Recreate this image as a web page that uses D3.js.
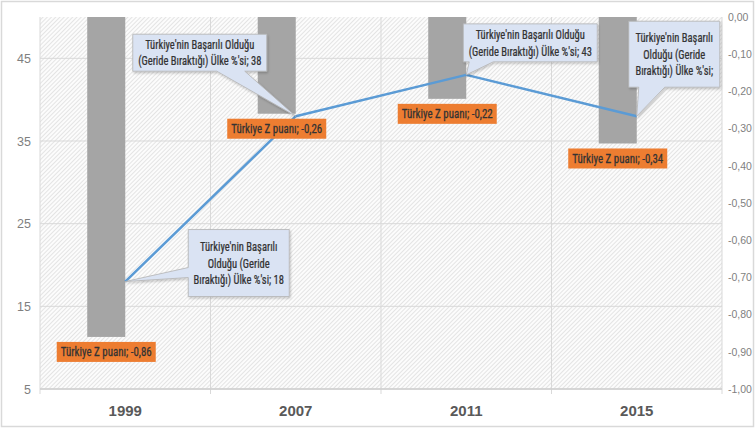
<!DOCTYPE html>
<html><head><meta charset="utf-8">
<script src="https://cdn.jsdelivr.net/npm/d3@7"></script>
<style>
html,body{margin:0;padding:0;background:#fff;}
svg{display:block;font-family:"Liberation Sans Narrow","Arial Narrow","Roboto Condensed",sans-serif;}
</style></head><body>
<svg id="chart" width="755" height="428"></svg>
<script>
const years = ["1999", "2007", "2011", "2015"];
const zScores = [-0.86, -0.26, -0.22, -0.34];
const pctValues = [18, 38, 43, 38];
const leftTicks = [5, 15, 25, 35, 45];
const rightTicks = [0, -0.1, -0.2, -0.3, -0.4, -0.5, -0.6, -0.7, -0.8, -0.9, -1.0];
const zLabelPrefix = "Türkiye Z puanı; ";
const pctLabelPrefix = "Türkiye'nin Başarılı Olduğu (Geride Bıraktığı) Ülke %'si; ";
// how the callout text wraps (words per line) and whether the value is shown
const calloutWraps = [[2, 2, 4], [3, 5], [3, 5], [2, 2, 3]];
const calloutShowValue = [true, true, true, false];

const svg = d3.select("#chart");
const W = 755, H = 428;
const L = 40, R = 722, T = 17, B = 389;
const SXC = 0.81; // horizontal condensing of callout text
const SXZ = 0.84; // horizontal condensing of Z label text

const fmt = v => d3.format(".2f")(v).replace(".", ",").replace("−", "-");

// outer border
svg.append("rect").attr("x", 1.5).attr("y", 1.5).attr("width", W - 3).attr("height", H - 3)
  .attr("fill", "#fff").attr("stroke", "#d9d9d9").attr("stroke-width", 1.5);

// hatch pattern
const defs = svg.append("defs");
const pat = defs.append("pattern").attr("id", "hatch").attr("patternUnits", "userSpaceOnUse")
  .attr("width", 3).attr("height", 3).attr("patternTransform", "rotate(-45)");
pat.append("rect").attr("width", 3).attr("height", 3).attr("fill", "#fcfcfc");
pat.append("line").attr("x1", 0).attr("y1", 0.5).attr("x2", 3).attr("y2", 0.5)
  .attr("stroke", "#e4e4e4").attr("stroke-width", 1);
const shadow = defs.append("filter").attr("id", "sh").attr("x", "-10%").attr("y", "-10%").attr("width", "130%").attr("height", "140%");
shadow.append("feDropShadow").attr("dx", 1).attr("dy", 1.5).attr("stdDeviation", 1.2).attr("flood-color", "#000").attr("flood-opacity", 0.22);

const x = d3.scaleBand().domain(years).range([L, R]).padding(0);
const yL = d3.scaleLinear().domain([5, 50]).range([B, T]);
const yR = d3.scaleLinear().domain([-1, 0]).range([B, T]);
const bw = x.bandwidth();
const cx = d => x(d) + bw / 2;

svg.append("rect").attr("x", L).attr("y", T).attr("width", R - L).attr("height", B - T).attr("fill", "url(#hatch)");

// horizontal gridlines
svg.append("g").selectAll("line").data(leftTicks).join("line")
  .attr("x1", L).attr("x2", R).attr("y1", d => yL(d)).attr("y2", d => yL(d))
  .attr("stroke", "#d9d9d9").attr("stroke-width", 1);
// vertical gridlines between categories (+ edges), extend as ticks below axis
const bounds = years.map(d => x(d)).concat([R]);
svg.append("g").selectAll("line").data(bounds).join("line")
  .attr("x1", d => d).attr("x2", d => d).attr("y1", T).attr("y2", B + 5)
  .attr("stroke", "#d9d9d9").attr("stroke-width", 1);
svg.append("line").attr("x1", L).attr("x2", R).attr("y1", B).attr("y2", B).attr("stroke", "#cfcfcf").attr("stroke-width", 1.5);

// axes
const gL = svg.append("g").attr("transform", `translate(${L},0)`)
  .call(d3.axisLeft(yL).tickValues(leftTicks).tickSize(0).tickPadding(9));
gL.select(".domain").remove();
gL.selectAll("text").attr("fill", "#7f7f7f").style("font-size", "12.5px").style("font-family", "inherit");

const gR = svg.append("g").attr("transform", `translate(${R},0)`)
  .call(d3.axisRight(yR).tickValues(rightTicks).tickFormat(fmt).tickSize(0).tickPadding(6));
gR.select(".domain").remove();
gR.selectAll("text").attr("fill", "#7f7f7f").style("font-size", "10.5px").style("font-family", "inherit");

const gX = svg.append("g").attr("transform", `translate(0,${B})`)
  .call(d3.axisBottom(x).tickSize(0).tickPadding(16));
gX.select(".domain").remove();
gX.selectAll("text").attr("fill", "#595959").style("font-size", "15px").style("font-weight", "bold").style("font-family", "inherit");

// bars (secondary axis, hanging from 0)
const barW = bw * 0.223;
svg.append("g").selectAll("rect").data(years).join("rect")
  .attr("x", d => cx(d) - barW).attr("width", barW)
  .attr("y", yR(0)).attr("height", (d, i) => yR(zScores[i]) - yR(0))
  .attr("fill", "#a5a5a5");

// line
const pts = years.map((d, i) => [cx(d), yL(pctValues[i])]);
svg.append("path").attr("d", d3.line()(pts)).attr("fill", "none")
  .attr("stroke", "#5b9bd5").attr("stroke-width", 2.5).attr("stroke-linejoin", "round");

// Z labels (orange)
const zg = svg.append("g");
years.forEach((d, i) => {
  const bx = cx(d) - barW / 2;
  const by = yR(zScores[i]) + 5;
  const g = zg.append("g");
  const t = g.append("text").attr("transform", `translate(${bx},${by + 14.5}) scale(${SXZ},1)`).attr("text-anchor", "middle")
    .attr("fill", "#333").attr("stroke", "#333").attr("stroke-width", 0.25)
    .style("font-size", "13px").text(zLabelPrefix + fmt(zScores[i]));
  const w = t.node().getComputedTextLength() * SXZ + 8;
  g.insert("rect", "text").attr("x", bx - w / 2).attr("y", by).attr("width", w).attr("height", 20).attr("fill", "#ed7d31");
});

// callouts: box offset relative to point, pointer base
const calloutLayout = [
  {dx: 63, dy: -52, w: 101, h: 67, side: "left", b0: 38, b1: 48},
  {dx: -163, dy: -82, w: 134, h: 37, side: "bottom", b0: 84, b1: 112},
  {dx: -3, dy: -51, w: 134, h: 38, side: "bottom", b0: 6, b1: 30},
  {dx: -8, dy: -95, w: 91, h: 66, side: "bottom", b0: 10, b1: 36}
];
const cg = svg.append("g");
years.forEach((d, i) => {
  const [px, py] = pts[i];
  const c = calloutLayout[i];
  const bx = px + c.dx, by = py + c.dy;
  let poly;
  if (c.side === "left") {
    poly = [[bx, by], [bx + c.w, by], [bx + c.w, by + c.h], [bx, by + c.h], [bx, by + c.b1], [px, py], [bx, by + c.b0]];
  } else {
    poly = [[bx, by], [bx + c.w, by], [bx + c.w, by + c.h], [bx + c.b1, by + c.h], [px, py], [bx + c.b0, by + c.h], [bx, by + c.h]];
  }
  cg.append("path").attr("d", "M" + poly.join("L") + "Z")
    .attr("fill", "#dae3f3").attr("stroke", "#b4b4b4").attr("stroke-width", 0.8).attr("filter", "url(#sh)");
  const words = (pctLabelPrefix + (calloutShowValue[i] ? pctValues[i] : "")).trim().split(" ");
  const lines = [];
  let k = 0;
  calloutWraps[i].forEach(n => { lines.push(words.slice(k, k + n).join(" ")); k += n; });
  const lh = 16.5;
  const y0 = by + c.h / 2 - (lines.length - 1) * lh / 2 + 4.5;
  const t = cg.append("text").attr("text-anchor", "middle").attr("fill", "#333")
    .attr("stroke", "#333").attr("stroke-width", 0.25)
    .attr("transform", `translate(${bx + c.w / 2},0) scale(${SXC},1)`).style("font-size", "13px");
  lines.forEach((ln, j) => t.append("tspan").attr("x", 0).attr("y", y0 + j * lh).text(ln));
});
</script>
</body></html>
